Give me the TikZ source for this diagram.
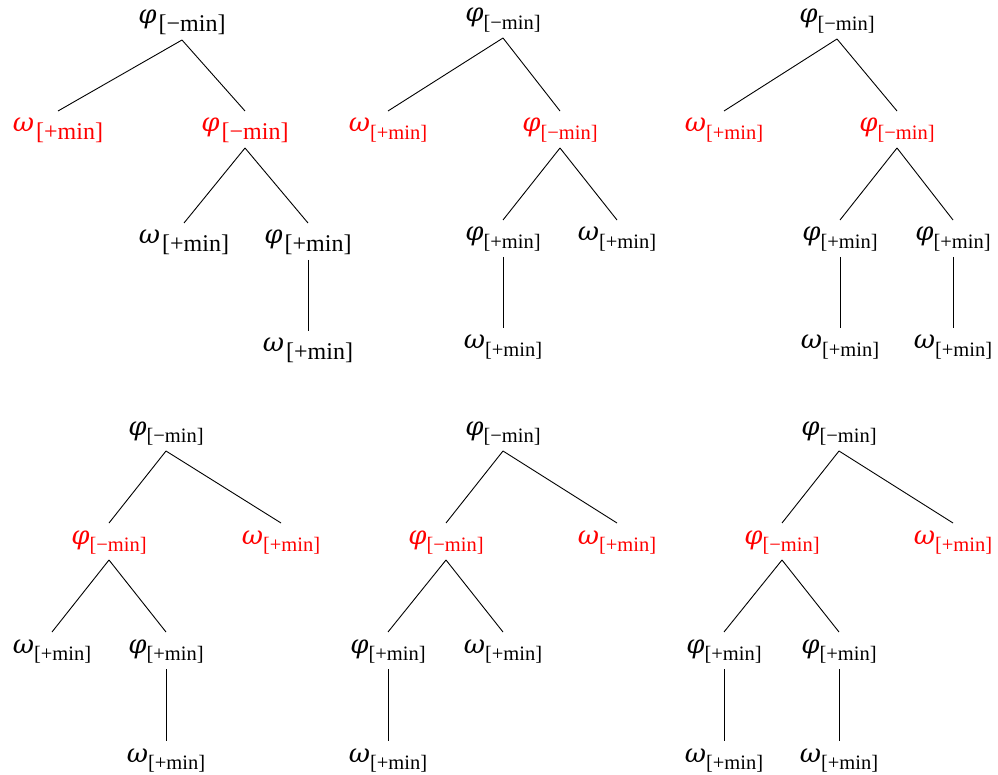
\documentclass[tikz,border=0pt]{standalone}
\usepackage{fontspec}
\setmainfont{Liberation Serif}
\newfontfamily\grk{DejaVu Serif}
\newcommand\gkf{\fontsize{26}{26}\grk\itshape}
\newcommand\subf{\fontsize{20.5}{20}\selectfont\mdseries\upshape}
\newcommand\subfA{\fontsize{24}{24}\selectfont\mdseries\upshape}
\newcommand\lbl[2]{\raisebox{-1pt}{\gkf #1}\raisebox{-8.5pt}{\subf #2}}
\newcommand\lblA[2]{\raisebox{-1pt}{\gkf #1}\kern2pt\raisebox{-9pt}{\subfA #2}}
\newcommand\mneg{[−min]}
\newcommand\mpos{[+min]}
\begin{document}
\begin{tikzpicture}[x=1pt,y=-1pt,
  lab/.style={inner sep=0pt,outer sep=0pt,text height=20pt,text depth=17pt,anchor=north},
  hl/.style={text=red},
  edge/.style={line width=0.9pt,draw=black}]
\useasboundingbox (0,0) rectangle (998,775);
% Tree 1
\node[lab] (a1) at (182,3) {\lblA{φ}{\mneg}};
\node[lab,hl] (a2) at (58,111) {\lblA{ω}{\mpos}};
\node[lab,hl] (a3) at (245,111) {\lblA{φ}{\mneg}};
\node[lab] (a4) at (184,223) {\lblA{ω}{\mpos}};
\node[lab] (a5) at (308,223) {\lblA{φ}{\mpos}};
\node[lab] (a6) at (308,331) {\lblA{ω}{\mpos}};
\draw[edge] (a1.south) -- (a2.north);
\draw[edge] (a1.south) -- (a3.north);
\draw[edge] (a3.south) -- (a4.north);
\draw[edge] (a3.south) -- (a5.north);
\draw[edge] (a5.south) -- (a6.north);
% Tree 2
\node[lab] (b1) at (503,1) {\lbl{φ}{\mneg}};
\node[lab,hl] (b2) at (388,111) {\lbl{ω}{\mpos}};
\node[lab,hl] (b3) at (560,111) {\lbl{φ}{\mneg}};
\node[lab] (b4) at (503,220) {\lbl{φ}{\mpos}};
\node[lab] (b5) at (617,220) {\lbl{ω}{\mpos}};
\node[lab] (b6) at (503,328) {\lbl{ω}{\mpos}};
\draw[edge] (b1.south) -- (b2.north);
\draw[edge] (b1.south) -- (b3.north);
\draw[edge] (b3.south) -- (b4.north);
\draw[edge] (b3.south) -- (b5.north);
\draw[edge] (b4.south) -- (b6.north);
% Tree 3
\node[lab] (c1) at (837,2) {\lbl{φ}{\mneg}};
\node[lab,hl] (c2) at (724,111) {\lbl{ω}{\mpos}};
\node[lab,hl] (c3) at (897,111) {\lbl{φ}{\mneg}};
\node[lab] (c4) at (840,220) {\lbl{φ}{\mpos}};
\node[lab] (c5) at (953,220) {\lbl{φ}{\mpos}};
\node[lab] (c6) at (840,328) {\lbl{ω}{\mpos}};
\node[lab] (c7) at (953,328) {\lbl{ω}{\mpos}};
\draw[edge] (c1.south) -- (c2.north);
\draw[edge] (c1.south) -- (c3.north);
\draw[edge] (c3.south) -- (c4.north);
\draw[edge] (c3.south) -- (c5.north);
\draw[edge] (c4.south) -- (c6.north);
\draw[edge] (c5.south) -- (c7.north);
% Tree 4
\node[lab] (d1) at (166,414) {\lbl{φ}{\mneg}};
\node[lab,hl] (d2) at (109,523) {\lbl{φ}{\mneg}};
\node[lab,hl] (d3) at (281,523) {\lbl{ω}{\mpos}};
\node[lab] (d4) at (52,632) {\lbl{ω}{\mpos}};
\node[lab] (d5) at (166,632) {\lbl{φ}{\mpos}};
\node[lab] (d6) at (166,741) {\lbl{ω}{\mpos}};
\draw[edge] (d1.south) -- (d2.north);
\draw[edge] (d1.south) -- (d3.north);
\draw[edge] (d2.south) -- (d4.north);
\draw[edge] (d2.south) -- (d5.north);
\draw[edge] (d5.south) -- (d6.north);
% Tree 5
\node[lab] (e1) at (503,414) {\lbl{φ}{\mneg}};
\node[lab,hl] (e2) at (446,523) {\lbl{φ}{\mneg}};
\node[lab,hl] (e3) at (617,523) {\lbl{ω}{\mpos}};
\node[lab] (e4) at (388,632) {\lbl{φ}{\mpos}};
\node[lab] (e5) at (503,632) {\lbl{ω}{\mpos}};
\node[lab] (e6) at (388,741) {\lbl{ω}{\mpos}};
\draw[edge] (e1.south) -- (e2.north);
\draw[edge] (e1.south) -- (e3.north);
\draw[edge] (e2.south) -- (e4.north);
\draw[edge] (e2.south) -- (e5.north);
\draw[edge] (e4.south) -- (e6.north);
% Tree 6
\node[lab] (f1) at (839,414) {\lbl{φ}{\mneg}};
\node[lab,hl] (f2) at (782,523) {\lbl{φ}{\mneg}};
\node[lab,hl] (f3) at (953,523) {\lbl{ω}{\mpos}};
\node[lab] (f4) at (724,632) {\lbl{φ}{\mpos}};
\node[lab] (f5) at (839,632) {\lbl{φ}{\mpos}};
\node[lab] (f6) at (724,741) {\lbl{ω}{\mpos}};
\node[lab] (f7) at (839,741) {\lbl{ω}{\mpos}};
\draw[edge] (f1.south) -- (f2.north);
\draw[edge] (f1.south) -- (f3.north);
\draw[edge] (f2.south) -- (f4.north);
\draw[edge] (f2.south) -- (f5.north);
\draw[edge] (f4.south) -- (f6.north);
\draw[edge] (f5.south) -- (f7.north);
\end{tikzpicture}
\end{document}
